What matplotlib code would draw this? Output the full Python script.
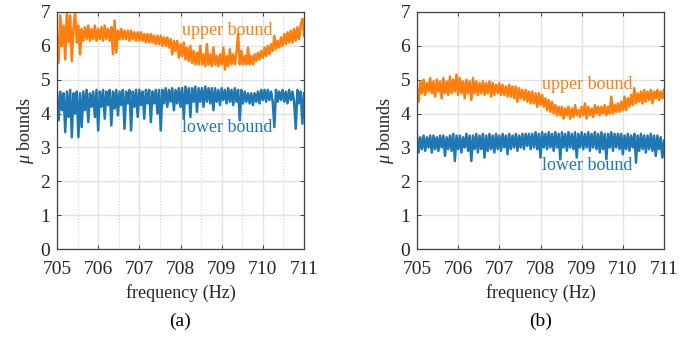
import numpy as np
import matplotlib
matplotlib.use('Agg')
import matplotlib.pyplot as plt
from matplotlib.ticker import MultipleLocator

plt.rcParams['font.family'] = 'Liberation Serif'
plt.rcParams['mathtext.fontset'] = 'custom'
plt.rcParams['mathtext.rm'] = 'Liberation Serif'
plt.rcParams['mathtext.it'] = 'Liberation Serif:italic'

# frequency grid, 0.04 Hz spacing
freq = np.round(705 + 0.04 * np.arange(151), 2)

# (a) bounds
a_upper = [
    6.3, 5.5, 6.9, 6.0, 6.6, 5.6, 7.0, 6.1, 6.9, 5.55, 6.5, 7.0, 6.1, 6.6, 5.75, 6.5,
    6.15, 6.55, 6.2, 6.6, 6.15, 6.5, 6.2, 6.6, 6.15, 6.5, 6.2, 6.55, 6.15, 6.6, 6.2,
    6.5, 6.15, 6.55, 5.75, 6.75, 5.8, 6.45, 6.2, 6.5, 6.2, 6.45, 6.2, 6.45, 6.15, 6.45,
    6.2, 6.4, 6.15, 6.4, 6.15, 6.4, 6.15, 6.35, 6.1, 6.35, 6.1, 6.35, 6.1, 6.3, 6.05,
    6.3, 6.05, 6.3, 6.0, 6.25, 6.0, 6.25, 5.95, 6.2, 5.75, 6.15, 5.85, 6.15, 5.65, 6.05,
    5.7, 6.1, 5.6, 5.95, 5.55, 6.0, 5.5, 5.85, 5.45, 5.8, 5.45, 6.0, 5.45, 5.75, 5.4,
    6.05, 5.45, 5.75, 5.4, 5.95, 5.45, 5.7, 5.4, 5.75, 5.45, 5.95, 5.3, 5.7, 5.4, 5.9,
    5.45, 5.75, 5.45, 5.8, 6.35, 5.45, 5.85, 5.45, 5.7, 5.45, 5.95, 5.45, 5.7, 5.45,
    5.75, 5.55, 5.8, 5.6, 5.85, 5.65, 5.95, 5.7, 6.0, 5.75, 6.05, 5.85, 6.3, 5.9, 6.15,
    5.95, 6.25, 6.0, 6.35, 6.05, 6.4, 6.1, 6.45, 6.1, 6.5, 6.15, 6.55, 6.2, 6.6, 6.8, 6.3,
]
a_lower = [
    4.6, 3.8, 4.65, 4.1, 4.6, 3.45, 4.65, 3.9, 4.7, 3.3, 4.6, 4.0, 4.65, 3.3, 4.6, 3.6,
    4.65, 4.1, 4.7, 3.75, 4.6, 4.2, 4.65, 3.9, 4.7, 3.5, 4.65, 4.2, 4.7, 3.85, 4.65,
    4.25, 4.7, 3.65, 4.65, 4.15, 4.7, 3.95, 4.65, 4.25, 4.7, 3.55, 4.65, 4.3, 4.7, 3.5,
    4.65, 4.2, 4.7, 3.9, 4.7, 4.25, 4.65, 3.85, 4.7, 4.3, 4.7, 3.75, 4.65, 4.3, 4.7,
    4.0, 4.7, 3.5, 4.7, 4.3, 4.75, 4.2, 4.7, 4.35, 4.75, 4.1, 4.7, 4.3, 4.75, 4.2,
    4.75, 3.85, 4.8, 4.3, 4.75, 3.9, 4.75, 4.35, 4.8, 4.05, 4.75, 4.35, 4.75, 4.2, 4.8,
    4.35, 4.75, 4.3, 4.75, 4.1, 4.75, 4.35, 4.7, 4.25, 4.75, 4.4, 4.7, 4.3, 4.75, 4.35,
    4.7, 4.25, 4.75, 4.35, 4.7, 3.8, 4.7, 4.3, 4.65, 4.35, 4.6, 4.3, 4.6, 4.25, 4.6,
    4.35, 4.65, 4.3, 4.7, 4.4, 4.7, 4.35, 4.7, 4.4, 4.65, 4.35, 3.6, 4.7, 4.35, 4.65,
    4.4, 4.7, 4.35, 4.65, 4.3, 4.7, 4.4, 4.65, 4.35, 3.55, 4.7, 4.3, 4.65, 3.7, 4.6,
]

# (b) bounds
b_upper = [
    4.75, 4.35, 4.95, 4.6, 5.0, 4.55, 4.9, 4.65, 5.05, 4.6, 4.95, 4.5, 5.0, 4.65, 4.95,
    4.45, 5.05, 4.6, 4.95, 4.55, 5.1, 4.6, 5.0, 4.65, 5.15, 4.55, 5.05, 4.6, 4.95, 4.45,
    5.0, 4.6, 4.95, 4.4, 5.05, 4.6, 4.95, 4.55, 4.9, 4.6, 4.95, 4.55, 4.9, 4.6, 4.95,
    4.5, 4.9, 4.55, 4.85, 4.6, 4.9, 4.55, 4.85, 4.55, 4.8, 4.5, 4.85, 4.5, 4.8, 4.45,
    4.8, 4.35, 4.75, 4.45, 4.7, 4.4, 4.7, 4.35, 4.65, 4.3, 4.65, 4.3, 4.6, 4.2, 4.6,
    4.25, 4.55, 4.2, 4.45, 4.1, 4.4, 4.05, 4.35, 4.0, 4.25, 3.95, 4.2, 3.95, 4.2, 3.85,
    4.15, 3.95, 4.2, 3.85, 4.15, 3.9, 4.25, 3.95, 4.1, 3.9, 4.2, 3.95, 4.3, 3.85, 4.2,
    3.95, 4.15, 3.9, 4.25, 4.0, 4.2, 3.95, 4.2, 4.0, 4.25, 3.95, 4.2, 4.0, 4.5, 4.0,
    4.25, 4.05, 4.3, 4.05, 4.35, 4.1, 4.5, 4.1, 4.45, 4.2, 4.55, 4.25, 4.75, 4.3, 4.6,
    4.35, 4.65, 4.3, 4.7, 4.35, 4.65, 4.4, 4.7, 4.3, 4.65, 4.45, 4.7, 4.4, 4.65, 4.45, 4.7,
]
b_lower = [
    3.35, 2.85, 3.3, 2.95, 3.35, 2.9, 3.3, 3.0, 3.35, 2.85, 3.35, 2.95, 3.3, 2.9, 3.35,
    3.0, 3.35, 2.75, 3.3, 2.95, 3.35, 2.9, 3.4, 2.6, 3.35, 2.95, 3.35, 2.85, 3.3, 3.0,
    3.4, 2.9, 3.35, 2.6, 3.35, 2.95, 3.4, 2.85, 3.35, 2.95, 3.4, 2.7, 3.35, 2.9, 3.4,
    2.95, 3.35, 2.85, 3.4, 2.95, 3.35, 2.9, 3.4, 3.0, 3.35, 2.8, 3.4, 2.95, 3.35, 3.0,
    3.4, 2.9, 3.35, 3.0, 3.4, 2.95, 3.4, 3.05, 3.4, 2.95, 3.4, 3.0, 3.45, 2.95, 3.4,
    2.7, 3.45, 3.0, 3.4, 2.95, 3.45, 3.0, 3.4, 2.9, 3.45, 3.0, 3.4, 2.65, 3.45, 3.0,
    3.4, 2.9, 3.45, 3.0, 3.4, 2.95, 3.45, 2.7, 3.4, 3.0, 3.45, 2.95, 3.4, 3.0, 3.45,
    2.9, 3.4, 3.0, 3.45, 2.95, 3.4, 2.85, 3.45, 2.95, 3.4, 2.65, 3.4, 3.0, 3.45, 2.9,
    3.4, 3.0, 3.4, 2.95, 3.4, 2.8, 3.35, 2.95, 3.4, 2.9, 3.35, 3.0, 3.4, 2.55, 3.35,
    2.9, 3.4, 2.95, 3.35, 2.85, 3.35, 2.95, 3.4, 2.9, 3.35, 2.75, 3.35, 2.95, 3.3, 2.7, 3.2,
]

BLUE = '#1f77b4'
ORANGE = '#ff7f0e'
TXT = '#262626'

fig = plt.figure(figsize=(6.95, 3.37), dpi=100)
ax_a = fig.add_axes([57 / 695, 1 - 249 / 337, 247 / 695, 237 / 337])
ax_b = fig.add_axes([417 / 695, 1 - 249 / 337, 247 / 695, 237 / 337])

panels = [
    (ax_a, a_upper, a_lower, (709.13, 6.45), (709.13, 3.58), '(a)', True),
    (ax_b, b_upper, b_lower, (709.13, 4.87), (709.13, 2.48), '(b)', False),
]

for ax, up, lo, up_pos, lo_pos, tag, minor in panels:
    ax.plot(freq, up, color=ORANGE, lw=1.8)
    ax.plot(freq, lo, color=BLUE, lw=1.8)
    ax.set_xlim(705, 711)
    ax.set_ylim(0, 7)
    ax.xaxis.set_major_locator(MultipleLocator(1))
    ax.yaxis.set_major_locator(MultipleLocator(1))
    ax.grid(True, which='major', color='#e3e3e3', lw=1.0)
    if minor:
        ax.xaxis.set_minor_locator(MultipleLocator(0.5))
        ax.grid(True, which='minor', axis='x', color='#cfcfcf', lw=0.8, ls=':')
        ax.tick_params(which='minor', length=0)
    ax.set_axisbelow(True)
    ax.tick_params(which='major', direction='in', top=True, right=True,
                   length=3, width=0.7, color='#404040', labelsize=14,
                   labelcolor=TXT)
    ax.tick_params(axis='x', pad=9)
    ax.tick_params(axis='y', pad=5)
    for sp in ax.spines.values():
        sp.set_color('#404040')
        sp.set_linewidth(0.9)
    ax.text(*up_pos, 'upper bound', color=ORANGE, fontsize=13,
            ha='center', va='center')
    ax.text(*lo_pos, 'lower bound', color=BLUE, fontsize=13,
            ha='center', va='center')
    ax.set_xlabel('frequency (Hz)', fontsize=13, color=TXT, labelpad=4)
    ax.set_ylabel(r'$\mu$ bounds', fontsize=13, color=TXT, labelpad=3)
    ax.text(0.5, -0.27, tag, transform=ax.transAxes, fontsize=14,
            ha='center', va='top', color='black')

fig.savefig('out.png', dpi=100)
